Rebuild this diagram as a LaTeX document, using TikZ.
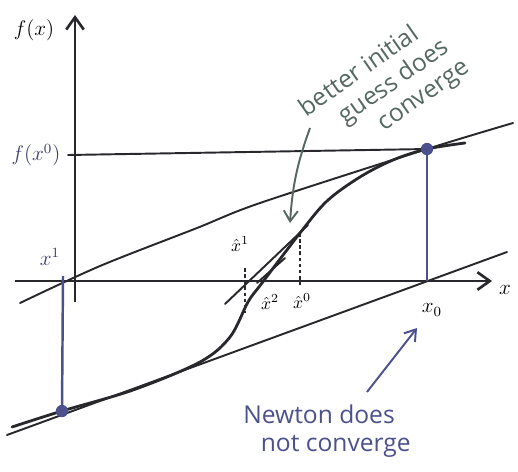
\documentclass[tikz,border=0pt]{standalone}
\usepackage{fontspec}
\setmainfont{Open Sans}
\usepackage{amsmath}
\usetikzlibrary{arrows.meta, calc}
\definecolor{inkblack}{RGB}{40,40,44}
\definecolor{inkblue}{RGB}{76,80,140}
\definecolor{labelblue}{RGB}{58,60,110}
\definecolor{inkgreen}{RGB}{84,104,96}
\tikzset{
  axis/.style={-{Straight Barb[length=7pt, width=10pt]}, line width=1.5pt, color=inkblack},
  curve/.style={line width=1.6pt, color=inkblack, line cap=round},
  tangent/.style={line width=1.1pt, color=inkblack, line cap=round},
  drop/.style={line width=1.4pt, color=inkblue},
  guide/.style={line width=0.9pt, color=inkblack, dashed, dash pattern=on 2pt off 1.5pt},
  pt/.style={circle, fill=inkblue, inner sep=0pt, minimum size=7pt},
  lab/.style={font=\large, inner sep=1pt},
  small lab/.style={font=\normalsize, inner sep=0pt},
  note/.style={font=\fontsize{14}{16}\selectfont, align=left, inner sep=0pt},
  pointer/.style={-{Straight Barb[length=6pt, width=8pt]}, line width=1.1pt}
}

\begin{document}
\begin{tikzpicture}[x=0.02cm, y=-0.02cm]
  \useasboundingbox (0,0) rectangle (518,471);

  % Axes
  \draw[axis] (15,281) -- (492,281);
  \draw[axis] (75,302) -- (75,15);
  \node[lab] (fx) at (34,30) {$f(x)$};
  \node[lab] (xlab) at (505,290) {$x$};

  % Key points
  \coordinate (P0) at (427,149);
  \coordinate (X0) at (427,281);
  \coordinate (X1) at (63,276);
  \coordinate (P1) at (62,411);
  \coordinate (H0) at (300,233);
  \coordinate (H0x) at (300,285);

  % f(x)
  \draw[curve] plot[smooth, tension=0.55] coordinates {(12,427) (62,411) (133,390) (200,362) (230,337) (248,302) (262,283) (300,233) (327,201) (360,177) (393,160) (427,149) (465,143)};

  % f(x^0) level
  \draw[tangent] (68,155) -- (P0);
  \node[lab, color=labelblue] (fx0) at (36,155) {$f(x^0)$};

  % Tangent at x0 and at x1
  \draw[tangent] plot[smooth] coordinates {(20,303) (100,266) (197,228) (260,203) (427,149) (513,123)};
  \draw[tangent] (7,435) -- (507,252);

  % Drops to the axis
  \draw[drop] (P0) -- (X0);
  \draw[drop] (X1) -- (P1);
  \node[pt] (p0) at (P0) {};
  \node[pt] (p1) at (P1) {};
  \node[lab] (x0lab) at (432,310) {$x_0$};
  \node[lab, color=labelblue] (x1lab) at (50,257) {$x^1$};

  % Better initial guess
  \draw[tangent] (225,304) -- (308,225);
  \draw[tangent] (257,283) -- (285,258);
  \draw[guide] (245,268) -- (245,313);
  \draw[guide] (H0) -- (H0x);
  \node[small lab] (hx1) at (240,244) {$\hat{x}^1$};
  \node[small lab] (hx2) at (270,302) {$\hat{x}^2$};
  \node[small lab] (hx0) at (302,301) {$\hat{x}^0$};

  % Notes
  \node[note, color=inkgreen, rotate=35] (better) at (385,89)
    {better initial\\\hspace*{16pt}guess does\\\hspace*{32pt}converge};
  \coordinate (btail) at (310,128);
  \coordinate (bhead) at (290,223);
  \draw[pointer, color=inkgreen] (btail) to[bend right=8] (bhead);

  \node[note, color=inkblue] (newton) at (327,431)
    {Newton does\\\hspace*{10pt}not converge};
  \coordinate (ntail) at (367,392);
  \coordinate (nhead) at (417,328);
  \draw[pointer, color=inkblue] (ntail) -- (nhead);

\end{tikzpicture}
\end{document}
